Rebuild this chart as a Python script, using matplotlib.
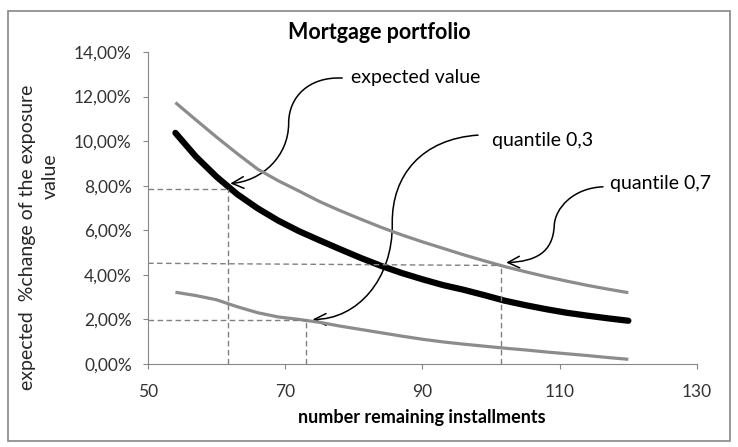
import numpy as np
import matplotlib
matplotlib.use('Agg')
import matplotlib.pyplot as plt
from matplotlib.path import Path
from matplotlib.patches import FancyArrowPatch, Rectangle

plt.rcParams['font.family'] = ['Lato', 'DejaVu Sans']

# Values (%)
installments = [54, 57, 60, 63, 66, 69, 72, 75, 78, 81, 84, 87, 90,
                93, 96, 99, 102, 105, 108, 111, 114, 117, 120]
quantile_07 = [11.73, 10.95, 10.18, 9.44, 8.74, 8.22, 7.76, 7.29, 6.88, 6.50, 6.13, 5.79,
               5.48, 5.19, 4.90, 4.63, 4.37, 4.14, 3.92, 3.72, 3.53, 3.36, 3.20]
expected = [10.37, 9.30, 8.40, 7.62, 6.98, 6.43, 5.96, 5.55, 5.15, 4.76, 4.40, 4.08,
            3.80, 3.54, 3.33, 3.09, 2.84, 2.64, 2.46, 2.30, 2.17, 2.05, 1.94]
quantile_03 = [3.22, 3.07, 2.88, 2.57, 2.30, 2.11, 2.00, 1.87, 1.70, 1.55, 1.40, 1.25,
               1.11, 0.99, 0.89, 0.80, 0.71, 0.63, 0.54, 0.46, 0.38, 0.29, 0.21]

# guide points (x, y) marked with dashed lines
guide_expected = (61.7, 7.85)
guide_q03 = (73.0, 1.97)
guide_q07 = (101.5, 4.45)

fig = plt.figure(figsize=(7.38, 4.47), dpi=100)
ax = fig.add_axes([0.2005, 0.1857, 0.7439, 0.698])

grey = '#8c8c8c'
ax.plot(installments, quantile_07, color=grey, lw=2.3, solid_capstyle='butt')
ax.plot(installments, quantile_03, color=grey, lw=2.3, solid_capstyle='butt')
ax.plot(installments, expected, color='black', lw=4.5, solid_capstyle='round')

# dashed guide lines
dash = dict(color='#808080', lw=1, ls=(0, (4, 2.5)))
for gx, gy in [guide_expected, guide_q03]:
    ax.plot([50, gx], [gy, gy], **dash)
    ax.plot([gx, gx], [0, gy], **dash)
ax.plot([50, guide_q07[0]], [4.52, 4.42], **dash)
ax.plot([guide_q07[0], guide_q07[0]], [0, 4.42], **dash)

# curvy callout arrows
def callout(pts):
    codes = [Path.MOVETO] + [Path.CURVE4] * (len(pts) - 1)
    arr = FancyArrowPatch(path=Path(pts, codes), arrowstyle='->,head_length=0.7,head_width=0.35',
                          color='black', lw=1.1, mutation_scale=12)
    ax.add_patch(arr)

callout([(78.3, 12.83), (73.5, 12.9), (70.5, 12.0), (70.5, 10.8),
         (70.5, 9.3), (66.5, 8.2), (62.0, 8.1)])
callout([(98.1, 10.27), (90.0, 10.1), (85.5, 8.5), (85.6, 6.3),
         (85.7, 3.8), (80.5, 2.0), (74.0, 2.0)])
callout([(116.3, 7.95), (112.0, 7.9), (109.3, 7.0), (109.2, 6.2),
         (109.0, 5.0), (106.5, 4.6), (102.2, 4.55)])

ax.text(79.6, 12.85, 'expected value', fontsize=14, va='center', ha='left')
ax.text(100.1, 10.05, 'quantile 0,3', fontsize=14, va='center', ha='left')
ax.text(117.3, 8.08, 'quantile 0,7', fontsize=14, va='center', ha='left')

ax.set_xlim(50, 130)
ax.set_ylim(0, 14)
ax.set_xticks([50, 70, 90, 110, 130])
ax.set_yticks(np.arange(0, 15, 2))
ax.set_yticklabels([f'{v},00%' for v in range(0, 15, 2)])
for s in ['top', 'right']:
    ax.spines[s].set_visible(False)
for s in ['left', 'bottom']:
    ax.spines[s].set_color('#868686')
ax.tick_params(colors='#868686', labelcolor='#333333', labelsize=12.5, length=3.6)
ax.tick_params(axis='y', pad=8)
ax.tick_params(axis='x', pad=11)

fig.text(0.514, 0.928, 'Mortgage portfolio', fontsize=15.5, fontweight='bold',
         ha='center', va='center')
fig.text(0.571, 0.065, 'number remaining installments', fontsize=13, fontweight='bold',
         ha='center', va='center')
fig.text(0.037, 0.468, 'expected  %change of the exposure', fontsize=14, rotation=90,
         ha='center', va='center', color='#262626')
fig.text(0.068, 0.605, 'value', fontsize=14, rotation=90, ha='center', va='center',
         color='#262626')

# outer chart border
fig.patches.append(Rectangle((8 / 738, 1 - 441 / 447), 722 / 738, 430 / 447,
                             transform=fig.transFigure, fill=False, ec='#868686', lw=1.2))

fig.savefig('out.png', dpi=100)
